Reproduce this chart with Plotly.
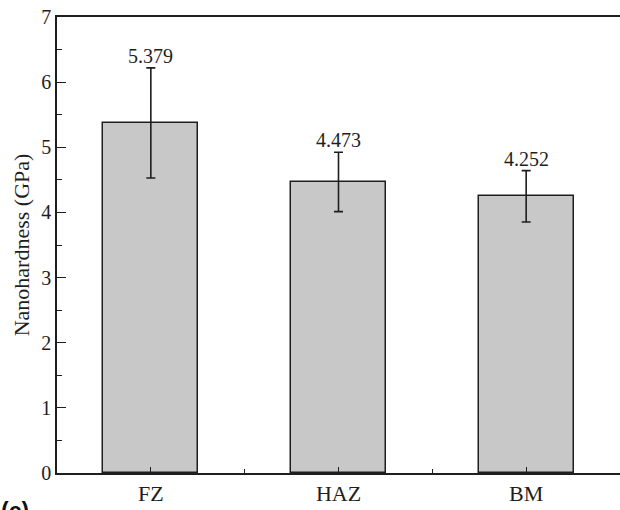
import plotly.graph_objects as go

categories = ["FZ", "HAZ", "BM"]
hardness = [5.379, 4.473, 4.252]
err_up = [0.84, 0.45, 0.39]
err_down = [0.85, 0.46, 0.40]
labels = ["5.379", "4.473", "4.252"]

xpos = list(range(len(categories)))
font = "Liberation Serif"
ink = "#1e1e1e"

fig = go.Figure()
fig.add_trace(go.Bar(
    x=xpos, y=hardness, width=0.505,
    marker=dict(color="#c8c8c8", line=dict(color=ink, width=1.5)),
    error_y=dict(type="data", symmetric=False, array=err_up, arrayminus=err_down,
                 color=ink, thickness=1.6, width=4.5),
    showlegend=False,
))

for x, y, e, t in zip(xpos, hardness, err_up, labels):
    fig.add_annotation(x=x, y=y + e, text=t, showarrow=False, yanchor="bottom",
                       yshift=-1, font=dict(family=font, size=20, color=ink))

fig.add_annotation(xref="paper", yref="paper", x=-0.103, y=-0.05, xanchor="left",
                   yanchor="top", text="<b>(c)</b>", showarrow=False,
                   font=dict(family="Liberation Sans", size=23, color="#111111"))

fig.update_layout(
    width=620, height=510,
    margin=dict(l=57, r=0, t=17, b=37),
    plot_bgcolor="white", paper_bgcolor="white",
    bargap=0,
    xaxis=dict(range=[-0.5, 2.5], tickvals=xpos, ticktext=categories,
               showline=True, linecolor=ink, linewidth=1.5, mirror=True,
               ticks="inside", ticklen=6, tickwidth=1.2, tickcolor=ink,
               minor=dict(tickvals=[0.5, 1.5], ticks="inside", ticklen=4,
                          tickwidth=1.2, tickcolor=ink),
               showgrid=False, zeroline=False,
               tickfont=dict(family=font, size=22, color=ink)),
    yaxis=dict(range=[0, 7], dtick=1, showline=True, linecolor=ink,
               linewidth=1.5, ticks="inside", ticklen=9, tickwidth=1.2,
               tickcolor=ink,
               minor=dict(dtick=0.5, ticks="inside", ticklen=5, tickwidth=1.2,
                          tickcolor=ink),
               showgrid=False, zeroline=False,
               title=dict(text="Nanohardness (GPa)", standoff=6,
                          font=dict(family=font, size=22, color=ink)),
               tickfont=dict(family=font, size=20, color=ink)),
)

fig.write_html("out.html")
